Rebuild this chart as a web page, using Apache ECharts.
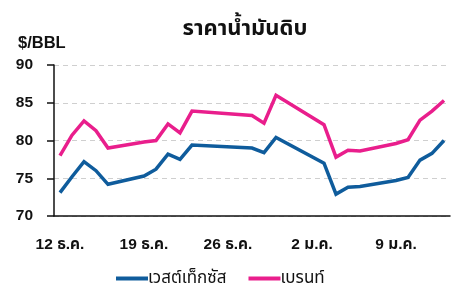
<!DOCTYPE html>
<html>
<head>
<meta charset="utf-8">
<script src="https://cdn.jsdelivr.net/npm/echarts@6/dist/echarts.min.js"></script>
<style>
html,body{margin:0;padding:0;background:#fff;}
#c{width:467px;height:302px;}
</style>
</head>
<body>
<div id="c"></div>
<script>
// Day categories: 12 Dec .. 13 Jan (one per calendar day)
const days = ['12 ธ.ค.','13 ธ.ค.','14 ธ.ค.','15 ธ.ค.','16 ธ.ค.','17 ธ.ค.','18 ธ.ค.','19 ธ.ค.','20 ธ.ค.','21 ธ.ค.','22 ธ.ค.','23 ธ.ค.','24 ธ.ค.','25 ธ.ค.','26 ธ.ค.','27 ธ.ค.','28 ธ.ค.','29 ธ.ค.','30 ธ.ค.','31 ธ.ค.','1 ม.ค.','2 ม.ค.','3 ม.ค.','4 ม.ค.','5 ม.ค.','6 ม.ค.','7 ม.ค.','8 ม.ค.','9 ม.ค.','10 ม.ค.','11 ม.ค.','12 ม.ค.','13 ม.ค.'];
const tickLabels = ['12 ธ.ค.','19 ธ.ค.','26 ธ.ค.','2 ม.ค.','9 ม.ค.'];
const wti =   [73.1,75.2,77.2,76.0,74.2,null,null,75.3,76.2,78.2,77.5,79.4,null,null,null,null,79.0,78.4,80.4,null,null,null,77.0,72.9,73.8,73.9,null,null,74.7,75.1,77.4,78.3,80.0];
const brent = [78.0,80.7,82.6,81.3,79.0,null,null,79.8,80.0,82.2,81.0,83.9,null,null,null,null,83.3,82.3,86.0,null,null,null,82.1,77.8,78.7,78.6,null,null,79.6,80.1,82.7,83.9,85.3];
const seriesNames = ['เวสต์เท็กซัส','เบรนท์'];
const yTicks = [70,75,80,85,90];

const FONT = '"Liberation Sans","Noto Sans Thai","Noto Sans",sans-serif';
const chart = echarts.init(document.getElementById('c'), null, {renderer:'canvas'});
chart.setOption({
  animation:false,
  backgroundColor:'#fff',
  title:{
    text:'ราคาน้ำมันดิบ', left:240, top:13,
    textAlign:'center',
    textStyle:{fontFamily:FONT, fontWeight:'bold', fontSize:22, color:'#111'}
  },
  graphic:[{
    type:'text', left:18, top:35,
    style:{text:'$/BBL', fontFamily:FONT, fontWeight:'bold', fontSize:16.5, fill:'#111'}
  }],
  legend:{
    top:265, left:111,
    itemWidth:32, itemHeight:4, itemGap:22,
    icon:'rect',
    textStyle:{fontFamily:FONT, fontSize:17, color:'#111', padding:[0,0,0,-5]},
    data:seriesNames
  },
  grid:{left:54, right:17, top:65, bottom:86},
  xAxis:{
    type:'category', data:days, boundaryGap:true,
    axisLine:{lineStyle:{color:'#111', width:1.5}},
    axisTick:{interval:(i)=>i%7===0, length:7, lineStyle:{color:'#111', width:1.5}},
    axisLabel:{interval:(i)=>i%7===0, margin:21, fontFamily:FONT, fontWeight:'bold', fontSize:15.5, color:'#111',
      formatter:(v)=>tickLabels.includes(v)?v:''},
    splitLine:{show:false}
  },
  yAxis:{
    type:'value', min:yTicks[0], max:yTicks[yTicks.length-1], interval:5,
    axisLine:{show:true, lineStyle:{color:'#111', width:1.5}},
    axisTick:{show:true, length:7, lineStyle:{color:'#111', width:1.5}},
    axisLabel:{margin:21, fontFamily:FONT, fontWeight:'bold', fontSize:15.5, color:'#111'},
    splitLine:{show:true, lineStyle:{color:'#cfcfcf', type:[5,4], width:1}}
  },
  series:[
    {name:seriesNames[0], type:'line', data:wti, connectNulls:true, symbol:'none',
     lineStyle:{width:3.5, color:'#0f5c9c', join:'miter'}, itemStyle:{color:'#0f5c9c'}},
    {name:seriesNames[1], type:'line', data:brent, connectNulls:true, symbol:'none',
     lineStyle:{width:3.5, color:'#e91e8c', join:'miter'}, itemStyle:{color:'#e91e8c'}}
  ]
});
</script>
</body>
</html>
